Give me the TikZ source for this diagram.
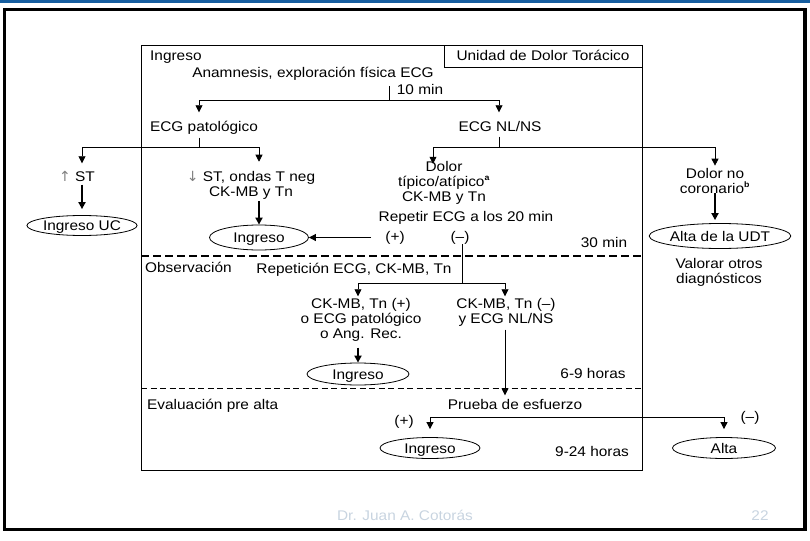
\documentclass[tikz,border=0pt]{standalone}
\usepackage{fontspec}
\setmainfont[FakeStretch=1.1]{Liberation Sans}
\newfontfamily\arrowfont{DejaVu Sans}
\usepackage{tikz}
\usetikzlibrary{shapes}
\usetikzlibrary{arrows.meta,positioning,calc}
\tikzstyle{txt}=[font=\fontsize{14}{15}\selectfont,inner sep=0pt,text height=10pt,text depth=3pt]
\tikzstyle{stack}=[font=\fontsize{14}{15}\selectfont,inner sep=0pt,align=center]
\tikzstyle{lbl}=[txt,anchor=west]
\tikzstyle{oval}=[ellipse,draw,line width=0.8pt,fill=white,inner sep=0pt,text height=10pt,text depth=0pt,font=\fontsize{14}{15}\selectfont]
\tikzstyle{flow}=[-{Triangle[length=7pt,width=7pt]},line width=0.8pt]
\tikzstyle{heavy}=[flow,line width=2pt]
\tikzstyle{elbow}=[to path={-| (\tikztotarget)}]
\tikzstyle{stage}=[dash pattern=on 8pt off 4pt,line width=1.3pt]
\definecolor{slideblue}{RGB}{22,94,160}
\definecolor{footgrey}{RGB}{200,212,224}
\newcommand{\grarrow}[1]{{\arrowfont\color{black!50}#1}}
\newcommand{\supmark}[1]{\textsuperscript{\bfseries\footnotesize #1}}
\begin{document}
\begin{tikzpicture}[x=1pt,y=-1pt]
\useasboundingbox (0,0) rectangle (810,540);
\fill[slideblue] (0,0) rectangle (810,3);
\draw[line width=3.5pt] (4.5,9.5) rectangle (805,529.5);
\draw[line width=1pt] (141,46) rectangle (642,470);
\draw[stage] (141,256) -- (642,256);
\draw[stage,line width=0.9pt,dash pattern=on 6pt off 3.5pt] (141,388) -- (642,388);

\node[txt,draw,line width=1pt,minimum width=198pt,minimum height=22pt] (udt) at (543,57) {Unidad de Dolor Torácico};
\node[lbl] (secin) at (150,57) {Ingreso};
\node[txt] (anam) at (313,74) {Anamnesis, exploración física ECG};
\node[txt] (tmin) at (420,91) {10 min};
\coordinate (anamout) at (389,86);
\coordinate (sp1) at (389,100);
\node[txt] (ecgpat) at (204,128) {ECG patológico};
\node[txt] (ecgnl) at (500,128) {ECG NL/NS};
\coordinate (sp2) at (199,147);
\coordinate (sp3) at (499,147);

\node[txt] (stup) at (77,178) {\grarrow{↑} ST};
\node[oval,minimum width=100pt,minimum height=20pt] (ingUC) at (82,225.5) {Ingreso UC};
\node[stack] (stdown) at (251,185) {\grarrow{↓} ST, ondas T neg\\CK-MB y Tn};
\node[oval,minimum width=99pt,minimum height=25pt] (ing1) at (259,237.5) {Ingreso};
\node[stack] (dolor) at (444,182.5) {Dolor\\típico/atípico\supmark{a}\\CK-MB y Tn};
\node[txt] (repetir) at (466,218) {Repetir ECG a los 20 min};
\node[txt] (plus1) at (395,237.5) {(+)};
\node[txt] (minus1) at (460,237.5) {(–)};
\node[txt] (t30) at (604,244) {30 min};
\node[stack] (nocor) at (715,180.5) {Dolor no\\coronario\supmark{b}};
\node[oval,minimum width=136pt,minimum height=25pt] (altaudt) at (720,236) {Alta de la UDT};
\node[stack] (valorar) at (719,272) {Valorar otros\\diagnósticos};

\node[lbl] (secobs) at (145,269) {Observación};
\node[txt] (repet) at (354,270) {Repetición ECG, CK-MB, Tn};
\coordinate (sp4) at (462,283);
\node[stack] (ckpos) at (361,320) {CK-MB, Tn (+)\\o ECG patológico\\o Ang. Rec.};
\node[stack] (ckneg) at (506,312.5) {CK-MB, Tn (–)\\y ECG NL/NS};
\node[oval,minimum width=102pt,minimum height=22pt] (ingobs) at (358,374) {Ingreso};
\node[txt] (t69) at (593,375) {6-9 horas};

\node[lbl] (seceval) at (147,406) {Evaluación pre alta};
\node[txt] (prueba) at (515,406) {Prueba de esfuerzo};
\coordinate (sp5) at (505,417);
\node[txt] (plus2) at (404,422) {(+)};
\node[txt] (minus2) at (750,418) {(–)};
\node[oval,minimum width=100pt,minimum height=21pt] (ingev) at (430,448) {Ingreso};
\node[txt] (t924) at (592,453) {9-24 horas};
\node[oval,minimum width=103pt,minimum height=21pt] (altafin) at (724,448) {Alta};

\node[txt,text=footgrey] (autor) at (405,517) {Dr. Juan A. Cotorás};
\node[txt,text=footgrey] (pag) at (760,517) {22};

\path
(anamout) edge [line width=0.8pt] (sp1)
(sp1) edge [flow,elbow,shorten >=9pt] (ecgpat.north -| sp2)
(sp1) edge [flow,elbow,shorten >=9pt] (ecgnl.north -| sp3)
(ecgpat.south -| sp2) edge [line width=0.8pt,shorten <=3pt] (sp2)
(ecgnl.south -| sp3) edge [line width=0.8pt,shorten <=2pt] (sp3)

(sp2) edge [flow,elbow,shorten >=8pt] (stup.north -| ingUC.north)
(sp2) edge [flow,elbow,shorten >=9pt] (stdown.north -| ing1.north)
(stup.south -| ingUC.north) edge [heavy,shorten >=6pt] (ingUC.north)
(stdown.south -| ing1.north) edge [heavy,shorten <=2pt] (ing1.north)
(plus1.west) edge [flow,shorten <=14pt] (ing1.east)

(sp3) edge [flow,elbow,shorten >=-3pt] ([xshift=-11pt]dolor.north)
(sp3) edge [flow,elbow,shorten >=2pt] (nocor.north)
(nocor.south) edge [heavy,shorten >=3pt] (nocor.south |- altaudt.north)

(minus1.south -| sp4) edge [line width=0.8pt] (sp4)
(sp4) edge [flow,elbow,shorten >=2pt] (ckpos.north -| ingobs.north)
(sp4) edge [flow,elbow,shorten >=2pt] (ckneg.north -| sp5)
(ckpos.south -| ingobs.north) edge [heavy,shorten <=6pt] (ingobs.north)
(ckneg.south -| sp5) edge [flow,shorten <=3pt,shorten >=4pt] (prueba.north -| sp5)

(sp5) edge [flow,elbow,shorten >=8pt] (ingev.north)
(sp5) edge [flow,elbow,shorten >=8pt] (altafin.north);
\end{tikzpicture}
\end{document}
